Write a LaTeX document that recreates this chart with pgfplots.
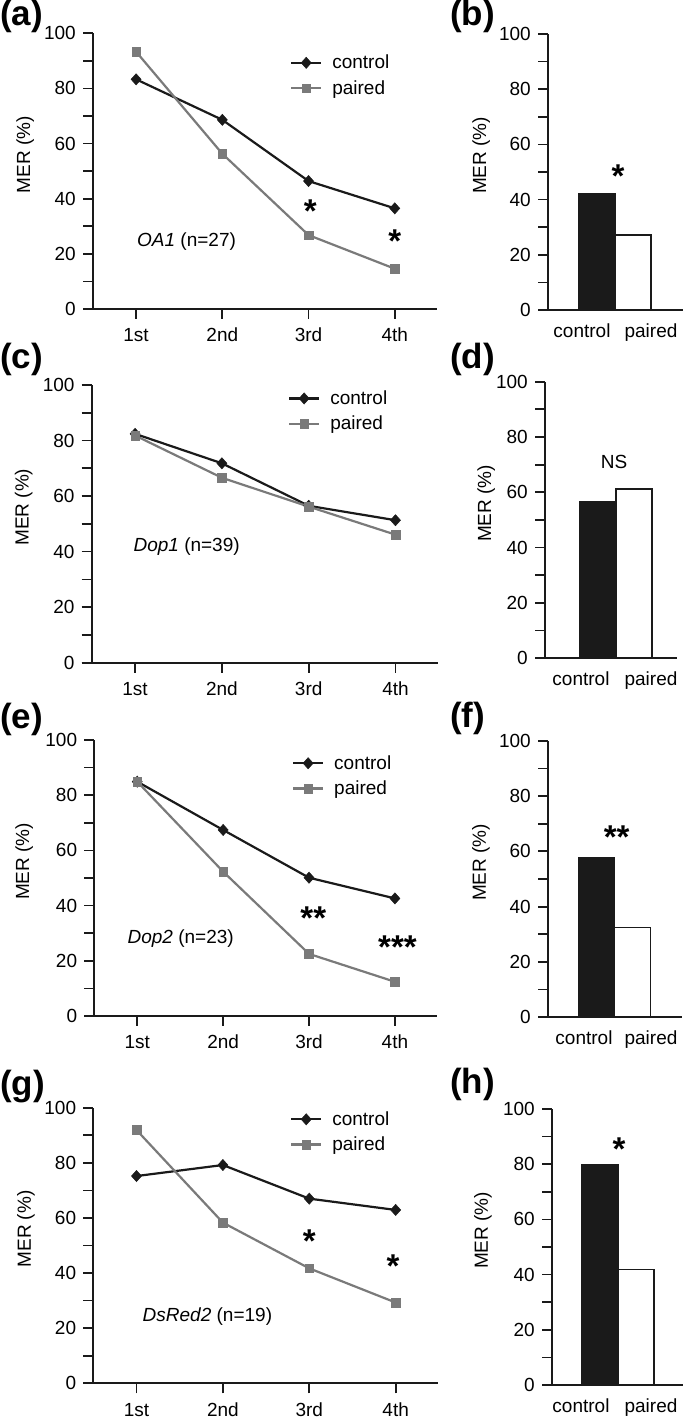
\documentclass[border=0pt]{standalone}
\usepackage{fontspec}
\setmainfont{Liberation Sans}
\usepackage{pgfplots}
\pgfplotsset{compat=1.18}
\newcommand\fs{\fontsize{19}{22}\selectfont}
\newcommand\sfs{\fontsize{33}{40}\selectfont\bfseries}
\newcommand\lfs{\fontsize{35}{40}\selectfont\bfseries}
\definecolor{ctrl}{HTML}{1A1A1A}
\definecolor{pair}{HTML}{7A7A7A}
\pgfplotsset{
 base/.style={scale only axis, ymin=0, ymax=100,
   axis x line*=bottom, axis y line*=left,
   axis line style={line width=2.2pt, ctrl},
   ytick={0,20,...,100}, minor ytick={10,30,...,90},
   tick align=outside, major tick length=10pt, minor tick length=10pt,
   every tick/.style={line width=1.7pt, ctrl},
   tick label style={font=\fs}, label style={font=\fs},
   /pgf/number format/assume math mode=true,
   yticklabel style={inner sep=0pt, xshift=-7pt},
   ylabel={MER (\%)},
   clip=false,
 },
 linepanel/.style={base, xmin=-0.5, xmax=3.49, xtick={0,1,2,3},
   xticklabels={1st,2nd,3rd,4th},
   xticklabel style={anchor=base, yshift=-23pt, inner sep=0pt},
   x axis line style={shorten <=-10pt},
   legend style={draw=none, fill=none, inner sep=0pt, outer sep=0pt, font=\fs,
     anchor=west, row sep=6pt, nodes={inner sep=2pt},
     /tikz/every odd column/.append style={column sep=8pt}},
   legend cell align=left,
 },
 barpanel/.style={base, xmin=0, xtick=\empty,
   x axis line style={shorten <=-6pt},
   extra x tick style={major tick length=0pt,
     xticklabel style={anchor=base, yshift=-27.5pt, inner sep=0pt}},
 },
 myleg/.style={legend image code/.code={\draw[mark repeat=2, mark phase=2, ##1] plot coordinates {(0pt,0pt) (15pt,0pt) (30pt,0pt)};}},
 cline/.style={ctrl, line width=2.2pt, mark=diamond*, mark size=5.6pt,
   mark options={line width=0.5pt, xscale=1.2, fill=ctrl}, myleg},
 pline/.style={pair, line width=2.2pt, mark=square*, mark size=4.3pt,
   mark options={line width=0.5pt, fill=pair}, myleg},
 cbar/.style={ybar, bar shift=0pt, bar width=36, fill=ctrl, draw=ctrl, line width=1.7pt},
 pbar/.style={ybar, bar shift=0pt, bar width=36, fill=white, draw=ctrl, line width=1.7pt},
}
\begin{document}
\begin{tikzpicture}[x=1pt,y=1pt]
\path[use as bounding box] (0,0) rectangle (685,1420);
% panel letters
\node[anchor=north west, inner sep=0, font=\lfs] at (0,1420) {(a)};
\node[anchor=north west, inner sep=0, font=\lfs] at (450,1420) {(b)};
\node[anchor=north west, inner sep=0, font=\lfs] at (0,1077) {(c)};
\node[anchor=north west, inner sep=0, font=\lfs] at (450,1077) {(d)};
\node[anchor=north west, inner sep=0, font=\lfs] at (0,717) {(e)};
\node[anchor=north west, inner sep=0, font=\lfs] at (450,718) {(f)};
\node[anchor=north west, inner sep=0, font=\lfs] at (0,350) {(g)};
\node[anchor=north west, inner sep=0, font=\lfs] at (450,352) {(h)};

% (a)
\begin{axis}[linepanel, at={(93pt,1111pt)}, anchor=south west, width=344pt, height=275.7pt,
  ylabel style={at={(axis description cs:-0.183,0.56)}, anchor=base},
  legend style={at={(axis description cs:0.573,0.847)}}]
\addplot[cline] coordinates {(0,83.3) (1,68.6) (2,46.4) (3,36.5)};
\addplot[pline] coordinates {(0,93.3) (1,56.3) (2,26.8) (3,14.6)};
\legend{control,paired}
\node[font=\fs, anchor=west, inner sep=0] at (axis cs:0.01,24.4) {\textit{OA1} (n=27)};
\node[font=\sfs, anchor=base, inner sep=0, yshift=-19pt] at (axis cs:2.02,38.1) {*};
\node[font=\sfs, anchor=base, inner sep=0, yshift=-19pt] at (axis cs:3.0,27.2) {*};
\end{axis}

% (b)
\begin{axis}[barpanel, at={(548pt,1110pt)}, anchor=south west, width=135pt, height=276pt,
  xmax=135, extra x ticks={34,103}, extra x tick labels={control,paired},
  ylabel style={at={(axis description cs:-0.459,0.56)}, anchor=base}]
\addplot[cbar] coordinates {(49,42.0)};
\addplot[pbar] coordinates {(85,27.2)};
\node[font=\sfs, anchor=base, inner sep=0, yshift=-19pt] at (axis cs:70,51.3) {*};
\end{axis}

% (c)
\begin{axis}[linepanel, at={(91.7pt,757.3pt)}, anchor=south west, width=346.3pt, height=277.7pt,
  ylabel style={at={(axis description cs:-0.182,0.56)}, anchor=base},
  legend style={at={(axis description cs:0.567,0.906)}}]
\addplot[cline] coordinates {(0,82.4) (1,71.8) (2,56.5) (3,51.3)};
\addplot[pline] coordinates {(0,81.8) (1,66.6) (2,56.2) (3,46.1)};
\legend{control,paired}
\node[font=\fs, anchor=west, inner sep=0] at (axis cs:-0.02,41.8) {\textit{Dop1} (n=39)};
\end{axis}

% (d)
\begin{axis}[barpanel, at={(545pt,761.7pt)}, anchor=south west, width=132pt, height=276.6pt,
  xmax=132, extra x ticks={36,106}, extra x tick labels={control,paired},
  ylabel style={at={(axis description cs:-0.409,0.56)}, anchor=base}]
\addplot[cbar] coordinates {(53,56.6)};
\addplot[pbar] coordinates {(89,61.2)};
\node[font=\fs, inner sep=0] at (axis cs:69,71.1) {NS};
\end{axis}

% (e)
\begin{axis}[linepanel, at={(94.3pt,404pt)}, anchor=south west, width=342.7pt, height=276pt,
  ylabel style={at={(axis description cs:-0.19,0.56)}, anchor=base},
  legend style={at={(axis description cs:0.577,0.870)}}]
\addplot[cline] coordinates {(0,84.9) (1,67.4) (2,50.1) (3,42.6)};
\addplot[pline] coordinates {(0,84.9) (1,52.3) (2,22.5) (3,12.4)};
\legend{control,paired}
\node[font=\fs, anchor=west, inner sep=0] at (axis cs:-0.115,28.1) {\textit{Dop2} (n=23)};
\node[font=\sfs, anchor=base, inner sep=0, yshift=-19pt] at (axis cs:2.05,38.4) {**};
\node[font=\sfs, anchor=base, inner sep=0, yshift=-19pt] at (axis cs:3.03,27.8) {***};
\end{axis}

% (f)
\begin{axis}[barpanel, at={(548pt,402.7pt)}, anchor=south west, width=133.7pt, height=276.6pt,
  xmax=133.7, extra x ticks={36,103}, extra x tick labels={control,paired},
  ylabel style={at={(axis description cs:-0.464,0.56)}, anchor=base}]
\addplot[cbar] coordinates {(48.5,57.8)};
\addplot[pbar] coordinates {(84.5,32.5)};
\node[font=\sfs, anchor=base, inner sep=0, yshift=-19pt] at (axis cs:68.7,68) {**};
\end{axis}

% (g)
\begin{axis}[linepanel, at={(93.3pt,36.7pt)}, anchor=south west, width=344.7pt, height=275.6pt,
  ylabel style={at={(axis description cs:-0.181,0.56)}, anchor=base},
  legend style={at={(axis description cs:0.571,0.912)}}]
\addplot[cline] coordinates {(0,75.2) (1,79.2) (2,67.0) (3,62.9)};
\addplot[pline] coordinates {(0,91.9) (1,58.3) (2,41.7) (3,29.3)};
\legend{control,paired}
\node[font=\fs, anchor=west, inner sep=0] at (axis cs:0.07,24.2) {\textit{DsRed2} (n=19)};
\node[font=\sfs, anchor=base, inner sep=0, yshift=-19pt] at (axis cs:2.0,54.4) {*};
\node[font=\sfs, anchor=base, inner sep=0, yshift=-19pt] at (axis cs:2.97,45.3) {*};
\end{axis}

% (h)
\begin{axis}[barpanel, at={(552pt,35pt)}, anchor=south west, width=131pt, height=276pt,
  xmax=131, extra x ticks={29,99}, extra x tick labels={control,paired},
  ylabel style={at={(axis description cs:-0.489,0.56)}, anchor=base}]
\addplot[cbar] coordinates {(48,79.7)};
\addplot[pbar] coordinates {(84,41.9)};
\node[font=\sfs, anchor=base, inner sep=0, yshift=-19pt] at (axis cs:67,88.2) {*};
\end{axis}
\end{tikzpicture}
\end{document}
